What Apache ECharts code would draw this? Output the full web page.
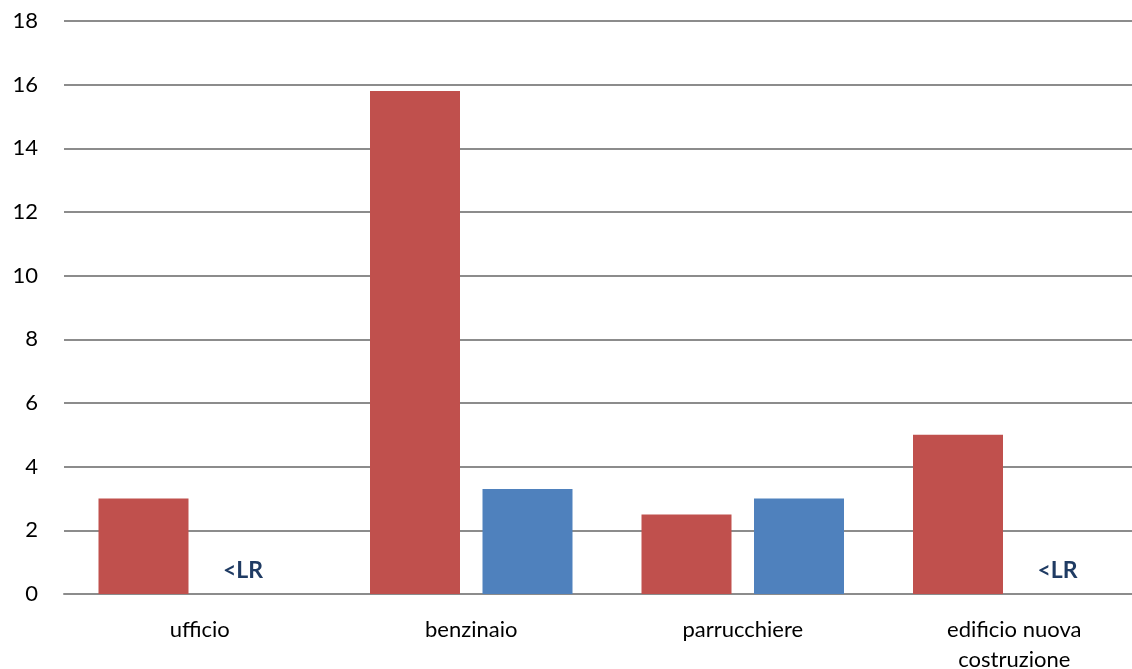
<!DOCTYPE html>
<html>
<head>
<meta charset="utf-8">
<script src="https://cdn.jsdelivr.net/npm/echarts@6/dist/echarts.min.js"></script>
<style>
  html, body { margin: 0; padding: 0; background: #fff; }
  #chart { width: 1132px; height: 669px; }
</style>
</head>
<body>
<div id="chart"></div>
<script>
// Categories and measured values
const categories = ['ufficio', 'benzinaio', 'parrucchiere', 'edificio nuova\ncostruzione'];
const redValues = [3, 15.8, 2.5, 5];
// null entries are below the limit of detection (<LR)
const blueValues = [null, 3.3, 3, null];
const belowLimitText = '<LR';
const yTicks = { min: 0, max: 18, step: 2 };

const font = 'Lato, "Open Sans", sans-serif';

const chart = echarts.init(document.getElementById('chart'), null, { renderer: 'canvas' });

chart.setOption({
  animation: false,
  backgroundColor: '#ffffff',
  grid: { left: 64, right: -18, top: 21, bottom: 75, containLabel: false, outerBoundsMode: 'none' },
  xAxis: {
    type: 'category',
    data: categories,
    axisLine: { show: true, lineStyle: { color: '#8c8c8c', width: 2 } },
    axisTick: { show: false },
    axisLabel: {
      color: '#000', fontFamily: font, fontSize: 22, margin: 21, lineHeight: 30, interval: 0
    }
  },
  yAxis: {
    type: 'value',
    min: yTicks.min, max: yTicks.max, interval: yTicks.step,
    axisLine: { show: false },
    axisTick: { show: false },
    splitLine: { lineStyle: { color: '#8c8c8c', width: 2 } },
    axisLabel: { color: '#000', fontFamily: font, fontSize: 22, margin: 26 }
  },
  series: [
    {
      type: 'bar',
      data: redValues,
      barWidth: 90,
      barGap: '25%',
      itemStyle: { color: '#C0504D' }
    },
    {
      type: 'bar',
      data: blueValues.map(v => v === null
        ? { value: 0, label: { show: true } }
        : v),
      barWidth: 90,
      itemStyle: { color: '#4F81BD' },
      label: {
        show: false,
        position: 'top',
        distance: 12,
        offset: [-13, 0],
        formatter: () => belowLimitText,
        color: '#1F3B63',
        fontFamily: font,
        fontWeight: 'bold',
        fontSize: 23
      }
    }
  ]
});
</script>
</body>
</html>
